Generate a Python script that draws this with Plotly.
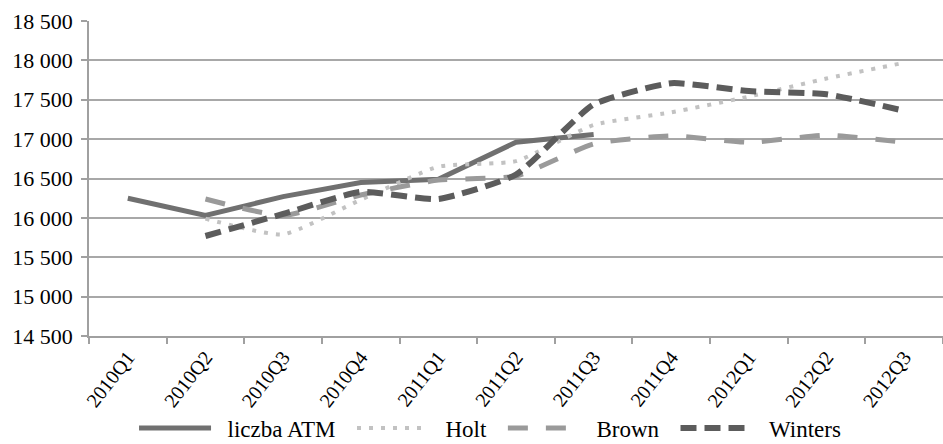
import plotly.graph_objects as go

categories = ["2010Q1", "2010Q2", "2010Q3", "2010Q4", "2011Q1", "2011Q2",
              "2011Q3", "2011Q4", "2012Q1", "2012Q2", "2012Q3"]
atm = [16250, 16030, 16270, 16450, 16490, 16960, 17060, None, None, None, None]
holt = [None, 15990, 15790, 16230, 16650, 16720, 17180, 17340, 17540, 17770, 17970]
brown = [None, 16240, 16030, 16290, 16480, 16530, 16940, 17040, 16960, 17050, 16960]
winters = [None, 15770, 16050, 16330, 16240, 16550, 17440, 17710, 17610, 17570, 17360]

series_names = ["liczba ATM", "Holt", "Brown", "Winters"]

font = "Liberation Serif"
pad = "\u00a0"

fig = go.Figure()
fig.add_trace(go.Scatter(x=categories, y=atm, name=pad * 2 + series_names[0] + pad * 2, mode="lines",
                         line=dict(color="#707070", width=5)))
fig.add_trace(go.Scatter(x=categories, y=holt, name=pad * 2 + series_names[1] + pad * 2, mode="lines",
                         line=dict(color="#c2c2c2", width=4, dash="4px,8px",
                                   shape="spline", smoothing=0.5)))
fig.add_trace(go.Scatter(x=categories, y=brown, name=pad * 2 + series_names[2] + pad * 2, mode="lines",
                         line=dict(color="#9a9a9a", width=5, dash="20px,18px",
                                   shape="spline", smoothing=0.5)))
fig.add_trace(go.Scatter(x=categories, y=winters, name=pad * 2 + series_names[3], mode="lines",
                         line=dict(color="#5c5c5c", width=6, dash="16px,8px",
                                   shape="spline", smoothing=0.5)))

fig.update_layout(
    width=943, height=444,
    margin=dict(l=89, r=0, t=21, b=108, autoexpand=False),
    paper_bgcolor="white", plot_bgcolor="white",
    separators=", ",
    font=dict(family=font, size=22, color="black"),
    showlegend=True,
    legend=dict(orientation="h", x=0.4696, xanchor="center", y=-0.224, yanchor="top",
                itemwidth=72, bgcolor="rgba(0,0,0,0)",
                font=dict(family=font, size=23, color="black"),
                traceorder="normal"),
)
fig.update_xaxes(type="category", range=[-0.5, 10.5], tickangle=-52, tickson="boundaries",
                 ticks="outside", ticklen=6, tickcolor="#a0a0a0", tickwidth=1.5,
                 showline=True, linecolor="#a0a0a0", linewidth=1.5,
                 showgrid=False, automargin=False,
                 tickfont=dict(family=font, size=20, color="black"))
fig.update_yaxes(range=[14500, 18500], dtick=500, tickformat=",",
                 ticks="outside", ticklen=6, tickcolor="#a0a0a0", tickwidth=1.5,
                 showline=True, linecolor="#a0a0a0", linewidth=1.5,
                 gridcolor="#a8a8a8", gridwidth=1.5, zeroline=False,
                 automargin=False, ticklabelstandoff=4,
                 tickfont=dict(family=font, size=22, color="black"))

fig.write_html("out.html", config={"displayModeBar": False},
               post_script="document.body.style.margin='0px';")
